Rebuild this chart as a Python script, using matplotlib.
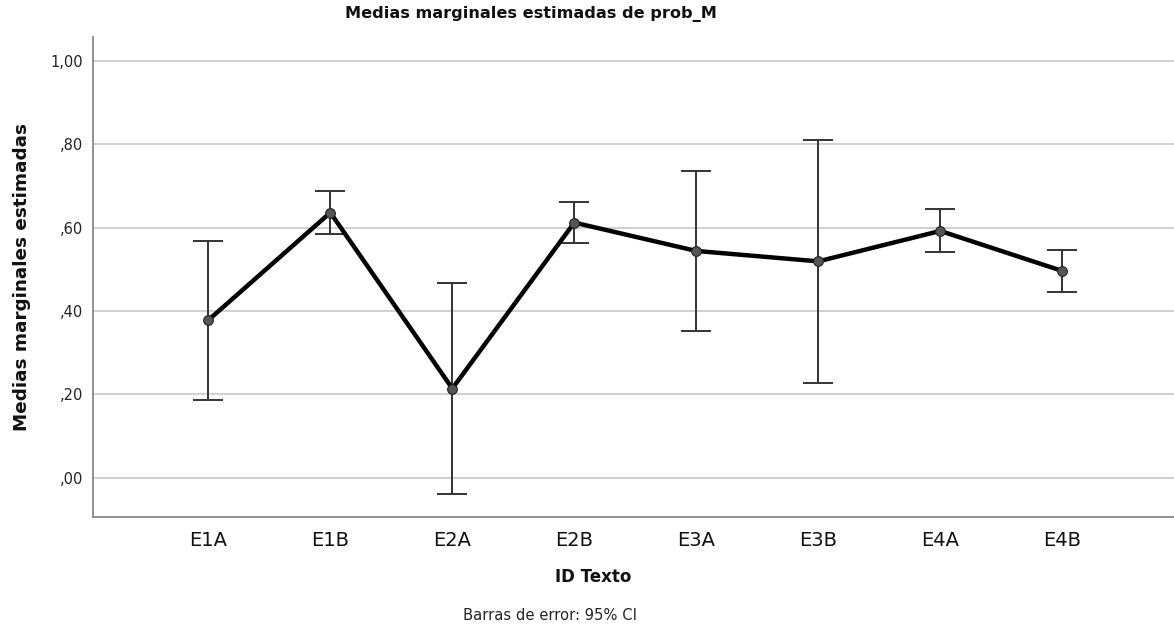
import matplotlib
matplotlib.use("Agg")
import matplotlib.pyplot as plt
from matplotlib.ticker import FuncFormatter, FixedLocator

# Estimated marginal means of prob_M by text ID, with 95% CI bounds
categories = ["E1A", "E1B", "E2A", "E2B", "E3A", "E3B", "E4A", "E4B"]
means = [0.378, 0.636, 0.214, 0.612, 0.544, 0.519, 0.592, 0.496]
ci_lower = [0.186, 0.585, -0.039, 0.563, 0.353, 0.226, 0.541, 0.446]
ci_upper = [0.568, 0.688, 0.467, 0.662, 0.735, 0.810, 0.644, 0.546]
y_ticks = [0.0, 0.2, 0.4, 0.6, 0.8, 1.0]

W, H = 1174, 627
fig = plt.figure(figsize=(W / 100, H / 100), dpi=100)
ax = fig.add_axes([92.7 / W, 1 - 517.3 / H, 1 - 92.7 / W, (517.3 - 36.7) / H])

x = list(range(len(categories)))
err_low = [m - lo for m, lo in zip(means, ci_lower)]
err_high = [hi - m for m, hi in zip(means, ci_upper)]

ax.errorbar(x, means, yerr=[err_low, err_high], fmt="none",
            ecolor="#333333", elinewidth=1.4, capsize=11, capthick=1.4, zorder=3)
ax.plot(x, means, color="black", linewidth=3.2, zorder=4)
ax.plot(x, means, linestyle="none", marker="o", markersize=7,
        markerfacecolor="#555555", markeredgecolor="#222222",
        markeredgewidth=0.8, zorder=5)

ax.set_xlim(-0.948, 7.916)
ax.set_ylim(-0.095, 1.058)
ax.yaxis.set_major_locator(FixedLocator(y_ticks))


def comma_fmt(v, pos):
    s = f"{v:.2f}".replace(".", ",")
    if s.startswith("0,"):
        s = s[1:]
    return s


ax.yaxis.set_major_formatter(FuncFormatter(comma_fmt))
ax.set_xticks(x)
ax.set_xticklabels(categories)
ax.tick_params(axis="y", length=0, pad=7, labelsize=10.5, labelcolor="#222222")
ax.tick_params(axis="x", length=0, pad=10, labelsize=14, labelcolor="#111111")

ax.grid(axis="y", color="#c8c8c8", linewidth=1.2)
ax.set_axisbelow(True)
for side in ("top", "right"):
    ax.spines[side].set_visible(False)
for side in ("left", "bottom"):
    ax.spines[side].set_color("#888888")
    ax.spines[side].set_linewidth(1.3)

fig.text(531 / W, 1 - 14 / H, "Medias marginales estimadas de prob_M",
         ha="center", va="center", fontsize=11.6, fontweight="bold", color="#111111")
fig.text(22 / W, 1 - 277 / H, "Medias marginales estimadas",
         ha="center", va="center", rotation=90, fontsize=13.2, fontweight="bold", color="#111111")
fig.text(593 / W, 1 - 577 / H, "ID Texto",
         ha="center", va="center", fontsize=12, fontweight="bold", color="#111111")
fig.text(550 / W, 1 - 616 / H, "Barras de error: 95% CI",
         ha="center", va="center", fontsize=10.6, color="#222222")

fig.savefig("out.png", dpi=100, facecolor="white")
